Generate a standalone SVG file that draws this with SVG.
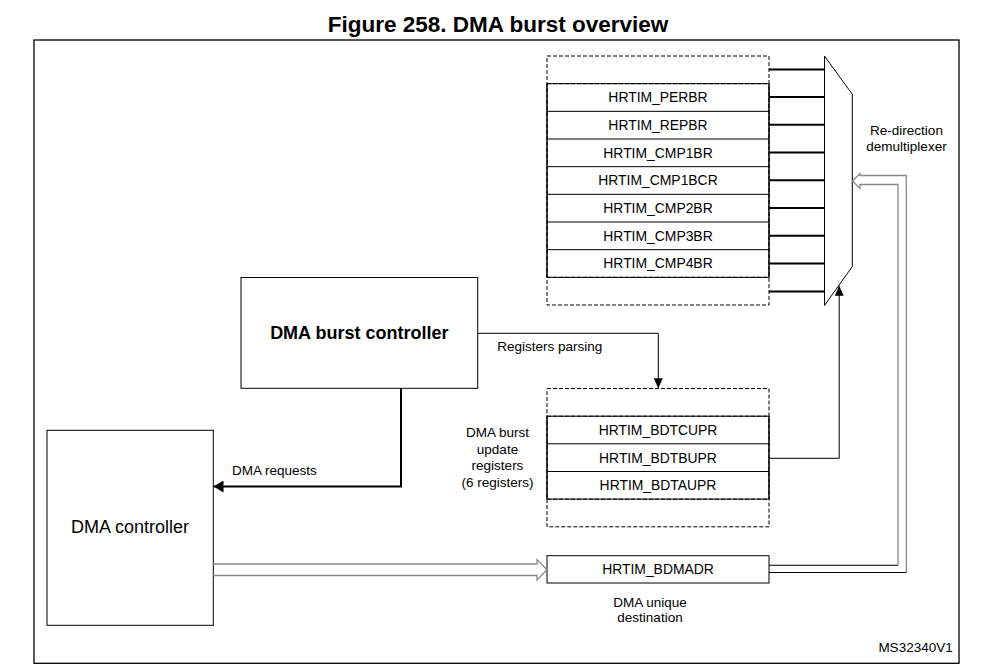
<svg xmlns="http://www.w3.org/2000/svg" width="994" height="672" viewBox="0 0 994 672">
  <defs>
    <style>
      text { font-family: "Liberation Sans", Arial, sans-serif; fill: #000; }
      .title { font-size: 22.5px; font-weight: bold; text-anchor: middle; }
      .reg { font-size: 13.9px; text-anchor: middle; }
      .lbl { font-size: 13.5px; }
      .ctr { text-anchor: middle; }
      .box { fill: #fff; stroke: #000; stroke-width: 1; }
      .dash { fill: none; stroke: #000; stroke-width: 1; stroke-dasharray: 4 2; }
      .solid { fill: none; stroke: #000; stroke-width: 1; }
      .wire { fill: none; stroke: #000; stroke-width: 1; }
      .bus { fill: none; stroke: #000; stroke-width: 2; }
      .hollow { fill: none; stroke: #8a8a8a; stroke-width: 1.3; }
      .hollowk { fill: none; stroke: #000; stroke-width: 1.1; }
    </style>
    <marker id="ah" markerUnits="userSpaceOnUse" markerWidth="10" markerHeight="10" viewBox="0 0 10 10" refX="10" refY="5" orient="auto">
      <path d="M0,0.5 L10,5 L0,9.5 Z" fill="#000"/>
    </marker>
    <marker id="ahBig" markerUnits="userSpaceOnUse" markerWidth="10" markerHeight="12" viewBox="0 0 10 12" refX="10" refY="6" orient="auto">
      <path d="M0,0 L10,6 L0,12 Z" fill="#000"/>
    </marker>
  </defs>

  <rect width="994" height="672" fill="#fff"/>

  <text class="title" x="498" y="32.3">Figure 258. DMA burst overview</text>
  <rect x="34" y="40" width="925" height="623.3" fill="none" stroke="#000" stroke-width="1.3"/>

  <!-- Top register stack -->
  <g id="upper-registers">
    <rect x="547" y="83.67" width="222" height="193.66" class="box"/>
    <rect x="547" y="56" width="222" height="249" class="dash"/>
    <line x1="547" y1="83.67" x2="769" y2="83.67" class="dash"/>
    <line x1="547" y1="277.33" x2="769" y2="277.33" class="dash"/>
    <line x1="547" y1="83.67" x2="547" y2="277.33" class="solid"/>
    <line x1="769" y1="83.67" x2="769" y2="277.33" class="solid"/>
    <line x1="547" y1="111.33" x2="769" y2="111.33" class="solid"/>
    <line x1="547" y1="139" x2="769" y2="139" class="solid"/>
    <line x1="547" y1="166.67" x2="769" y2="166.67" class="solid"/>
    <line x1="547" y1="194.33" x2="769" y2="194.33" class="solid"/>
    <line x1="547" y1="222" x2="769" y2="222" class="solid"/>
    <line x1="547" y1="249.67" x2="769" y2="249.67" class="solid"/>
    <text class="reg" x="658" y="102.3">HRTIM_PERBR</text>
    <text class="reg" x="658" y="130">HRTIM_REPBR</text>
    <text class="reg" x="658" y="157.6">HRTIM_CMP1BR</text>
    <text class="reg" x="658" y="185.3">HRTIM_CMP1BCR</text>
    <text class="reg" x="658" y="213">HRTIM_CMP2BR</text>
    <text class="reg" x="658" y="240.6">HRTIM_CMP3BR</text>
    <text class="reg" x="658" y="268.3">HRTIM_CMP4BR</text>
  </g>

  <!-- Demultiplexer -->
  <g id="demux">
    <path d="M824.5,56 L852.3,94.3 L852.3,266.5 L824.5,305.5 Z" class="box"/>
    <text class="lbl ctr" x="906.5" y="135">Re-direction</text>
    <text class="lbl ctr" x="906.5" y="150.5">demultiplexer</text>
  </g>

  <!-- DMA burst controller -->
  <g id="dma-burst-controller">
    <rect x="241" y="277.5" width="236.7" height="110.8" class="box"/>
    <text x="359.3" y="338.5" font-size="18" font-weight="bold" text-anchor="middle">DMA burst controller</text>
  </g>

  <!-- Lower register stack -->
  <g id="update-registers">
    <rect x="547" y="416.2" width="222" height="82.9" class="box"/>
    <rect x="547" y="388.5" width="222" height="138.3" class="dash"/>
    <line x1="547" y1="416.2" x2="769" y2="416.2" class="dash"/>
    <line x1="547" y1="499.1" x2="769" y2="499.1" class="dash"/>
    <line x1="547" y1="416.2" x2="547" y2="499.1" class="solid"/>
    <line x1="769" y1="416.2" x2="769" y2="499.1" class="solid"/>
    <line x1="547" y1="443.8" x2="769" y2="443.8" class="solid"/>
    <line x1="547" y1="471.5" x2="769" y2="471.5" class="solid"/>
    <text class="reg" x="658" y="434.8">HRTIM_BDTCUPR</text>
    <text class="reg" x="658" y="462.5">HRTIM_BDTBUPR</text>
    <text class="reg" x="658" y="490.1">HRTIM_BDTAUPR</text>
    <text class="lbl ctr" x="497.5" y="437">DMA burst</text>
    <text class="lbl ctr" x="497.5" y="453.5">update</text>
    <text class="lbl ctr" x="497.5" y="470">registers</text>
    <text class="lbl ctr" x="497.5" y="486.5">(6 registers)</text>
  </g>

  <!-- DMA controller -->
  <g id="dma-controller">
    <rect x="47" y="430.3" width="166.3" height="195" class="box"/>
    <text x="130" y="533" font-size="18" text-anchor="middle">DMA controller</text>
  </g>

  <!-- BDMADR -->
  <g id="bdmadr">
    <rect x="547" y="555.7" width="222" height="27.3" class="box"/>
    <text class="reg" x="658" y="574.2">HRTIM_BDMADR</text>
    <text class="lbl ctr" x="650" y="606.5">DMA unique</text>
    <text class="lbl ctr" x="650" y="622">destination</text>
  </g>

  <text class="lbl" x="952.7" y="651.7" text-anchor="end">MS32340V1</text>

  <!-- Connectors -->
  <g id="connectors">
    <!-- register lines to demux -->
    <g stroke="#000" stroke-width="2">
      <line x1="769" y1="69.5" x2="824.5" y2="69.5"/>
      <line x1="769" y1="97" x2="824.5" y2="97"/>
      <line x1="769" y1="124.8" x2="824.5" y2="124.8"/>
      <line x1="769" y1="152.6" x2="824.5" y2="152.6"/>
      <line x1="769" y1="180.3" x2="824.5" y2="180.3"/>
      <line x1="769" y1="208" x2="824.5" y2="208"/>
      <line x1="769" y1="235.7" x2="824.5" y2="235.7"/>
      <line x1="769" y1="263.4" x2="824.5" y2="263.4"/>
      <line x1="769" y1="291.5" x2="824.5" y2="291.5"/>
    </g>
    <!-- Registers parsing -->
    <path d="M477.7,333.3 H658.3 V388.3" class="wire" marker-end="url(#ah)"/>
    <text class="lbl" x="497.3" y="351">Registers parsing</text>
    <!-- DMA requests -->
    <path d="M401,388.3 V486.5 H213.5" class="bus" marker-end="url(#ahBig)"/>
    <text class="lbl" x="232" y="475">DMA requests</text>
    <!-- BDTBUPR to demux select -->
    <path d="M769,458.3 H839.2 V285.8" class="wire" marker-end="url(#ah)"/>
    <!-- Hollow arrow DMA controller to BDMADR -->
    <path d="M213.3,564 H537 V559.5 L547,569.7 L537,580 V575.5 H213.3" class="hollow"/>
    <!-- Hollow arrow BDMADR to demux -->
    <path d="M898,565.3 V184.5 H860 V188.5 L852.5,181 L860,173.5 V175.5 H906.3 V572.5" class="hollow"/>
    <path d="M769,565.3 H898" class="hollowk"/>
    <path d="M769,572.5 H906.3" class="hollowk"/>
  </g>
</svg>
